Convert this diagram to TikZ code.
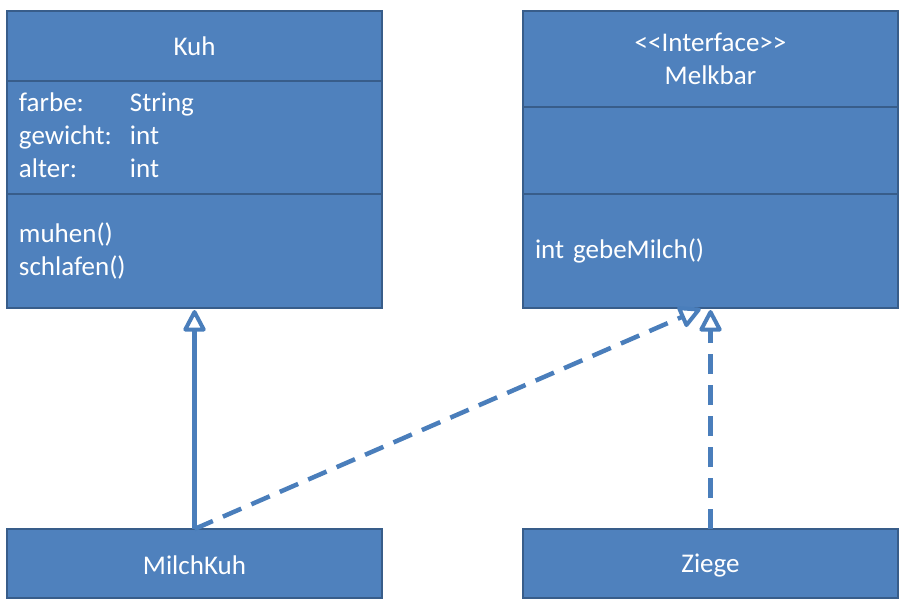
\documentclass[tikz,border=0pt]{standalone}
\usepackage{fontspec}
\setmainfont{Carlito}
\usetikzlibrary{positioning,arrows.meta}
\definecolor{boxfill}{HTML}{4F81BD}
\definecolor{boxline}{HTML}{385D8A}
\definecolor{arrowc}{HTML}{4A7EBB}

\tikzset{
  compart/.style={draw=boxline, fill=boxfill, line width=2.5pt, text=white,
    outer sep=0pt, inner xsep=12pt, text width=351pt,
    font=\fontsize{27}{33}\selectfont},
  titlebox/.style={compart, align=center},
  listbox/.style={compart, align=left},
  inherit/.style={line width=4.5pt, arrowc, shorten >=2pt,
    -{Triangle[width=24pt, length=24pt, fill=white, line width=4pt, round]}},
  realize/.style={inherit, dash pattern=on 20pt off 11pt}
}

\begin{document}
\begin{tikzpicture}[x=1pt, y=1pt]
  \useasboundingbox (0,0) rectangle (902,-605);
  % class Kuh
  \node[titlebox, minimum height=70pt] (kuh) at (194.5,-46) {Kuh};
  \node[listbox, minimum height=113pt, below=0pt of kuh] (kuhattr)
    {\begin{tabular}{@{}p{111pt}@{}l@{}}farbe: & String\\ gewicht: & int\\ alter: & int\end{tabular}};
  \node[listbox, minimum height=114pt, below=0pt of kuhattr] (kuhmeth) {muhen()\\schlafen()};
  % interface Melkbar
  \node[titlebox, minimum height=96pt] (melk) at (710.5,-59) {<{}<Interface>{}>\\Melkbar};
  \node[listbox, minimum height=87pt, below=0pt of melk] (melkattr) {};
  \node[listbox, minimum height=114pt, below=0pt of melkattr] (melkmeth) {int gebeMilch()};
  % subclasses
  \node[titlebox, minimum height=69pt, text height=22pt] (milchkuh) at (194.5,-563.5) {MilchKuh};
  \node[titlebox, minimum height=69pt, text height=22pt] (ziege) at (710.5,-563.5) {Ziege};
  % connectors
  \draw[inherit] (milchkuh) -- (kuhmeth);
  \draw[realize] (milchkuh.north) -- ([xshift=-8pt]melkmeth.south);
  \draw[realize] (ziege) -- (melkmeth);
\end{tikzpicture}
\end{document}
